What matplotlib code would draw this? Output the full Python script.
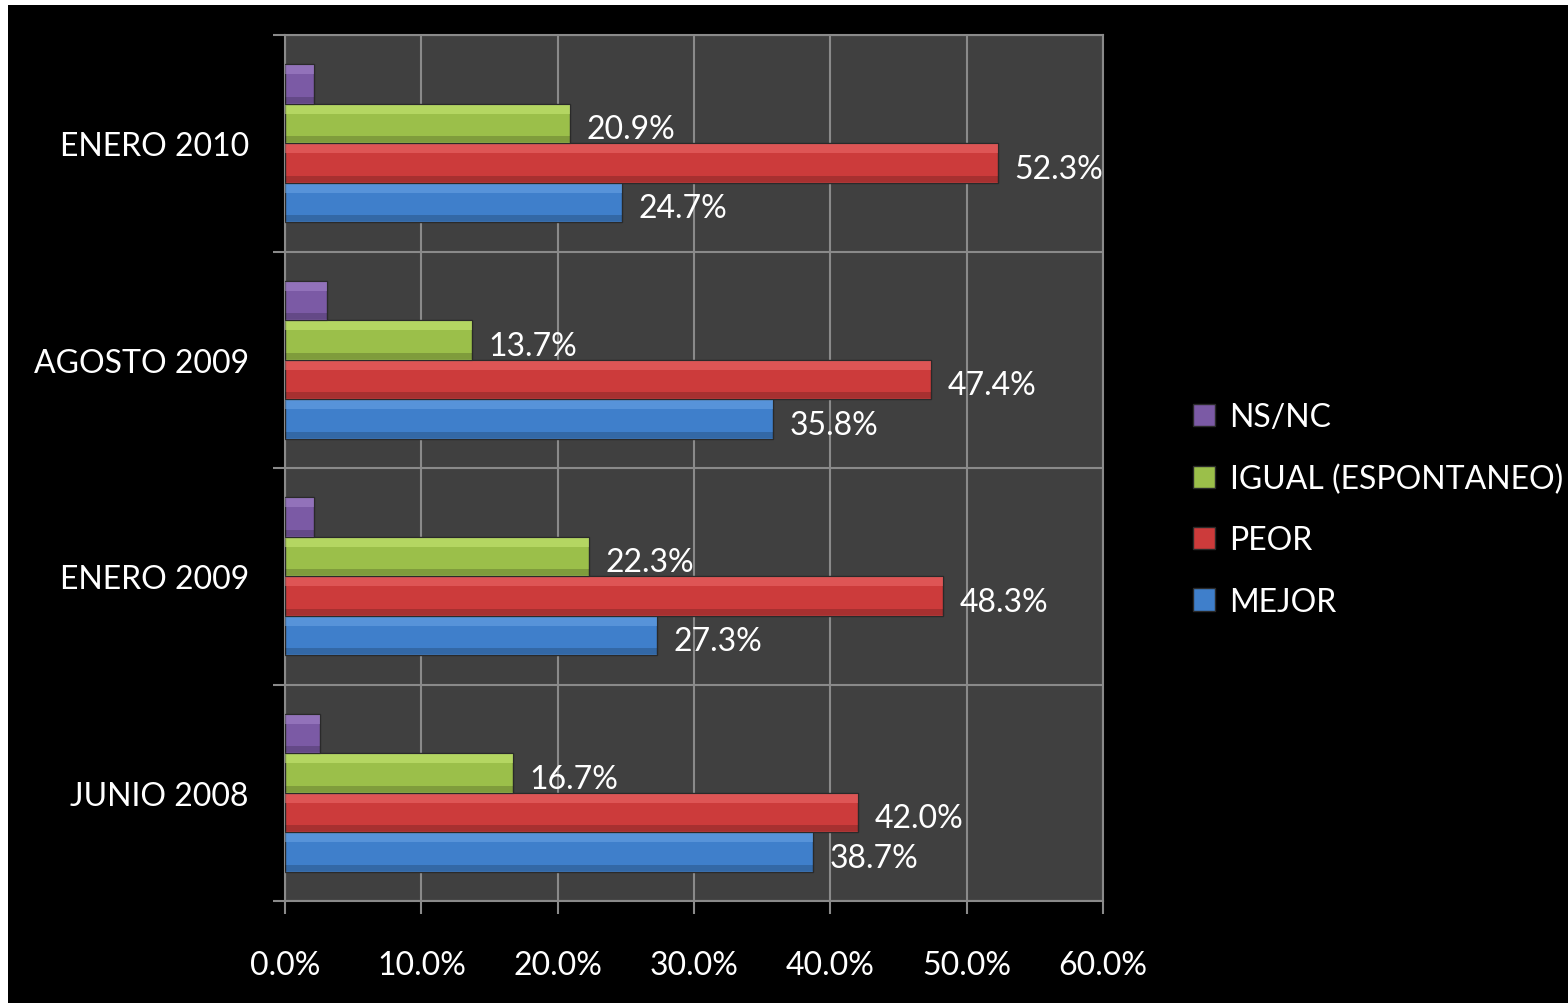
import matplotlib
matplotlib.use("Agg")
import matplotlib.pyplot as plt
from matplotlib.patches import Rectangle
import numpy as np

plt.rcParams['font.family'] = ['Lato', 'DejaVu Sans']

categories = ["JUNIO 2008", "ENERO 2009", "AGOSTO 2009", "ENERO 2010"]
mejor = [38.7, 27.3, 35.8, 24.7]
peor = [42.0, 48.3, 47.4, 52.3]
igual = [16.7, 22.3, 13.7, 20.9]
nsnc = [2.6, 2.1, 3.1, 2.1]
xticks = [0, 10, 20, 30, 40, 50, 60]

series = [
    ("MEJOR", mejor, "#3F7FCB", "#6FA8E8", True),
    ("PEOR", peor, "#CC3B3B", "#F07070", True),
    ("IGUAL (ESPONTANEO)", igual, "#9BBF4A", "#CDED7A", True),
    ("NS/NC", nsnc, "#7B5AA5", "#A98BD0", False),
]

FS = 23
W, H = 1568, 1004
fig = plt.figure(figsize=(W / 100, H / 100), dpi=100)
fig.patch.set_facecolor("white")
fig.add_artist(Rectangle((8 / W, 0), 1, (H - 6) / H, transform=fig.transFigure,
                         facecolor="black", edgecolor="none", zorder=0))

ax = fig.add_axes([285 / W, 1 - 902 / H, (1103 - 285) / W, (902 - 36) / H])
ax.set_facecolor("#404040")

y = np.arange(len(categories))
h = 0.1825
handles = []
for i, (name, vals, col, light, lab) in enumerate(series):
    off = (i - 1.5) * h
    bars = ax.barh(y + off, vals, height=h, color=col, edgecolor="#2a2a2a",
                   linewidth=1.0, zorder=3, label=name)
    # subtle bevel highlight / shadow
    ax.barh(y + off + h * 0.36, vals, height=h * 0.22, color=light, alpha=0.5,
            edgecolor="none", zorder=4)
    ax.barh(y + off - h * 0.40, vals, height=h * 0.16, color="black", alpha=0.18,
            edgecolor="none", zorder=4)
    handles.append(bars)
    if lab:
        txts = ax.bar_label(bars, labels=[f"{v:.1f}%" for v in vals], padding=12,
                            color="white", fontsize=FS)
        for t in txts:
            t.set_y(-4)

ax.set_xlim(0, 60)
ax.set_ylim(-0.5, 3.5)
ax.set_xticks(xticks)
ax.set_xticklabels([f"{t:.1f}%" for t in xticks], color="white", fontsize=FS)
ax.set_yticks(y)
ax.set_yticklabels(categories, color="white", fontsize=FS)
ax.set_yticks(np.arange(-0.5, 4.0, 1.0), minor=True)
ax.tick_params(axis="y", which="major", length=0, pad=26)
ax.tick_params(axis="y", which="minor", length=9, color="#8a8a8a", width=1.5)
ax.tick_params(axis="x", length=9, color="#8a8a8a", width=1.5, pad=26)
ax.grid(axis="x", color="#8a8a8a", linewidth=1.5, zorder=1)
ax.grid(axis="y", which="minor", color="#8a8a8a", linewidth=1.5, zorder=1)
ax.set_axisbelow(True)
for s in ax.spines.values():
    s.set_color("#8a8a8a")
    s.set_linewidth(1.5)

leg = ax.legend(handles=handles[::-1], labels=[s[0] for s in series][::-1],
                loc="center left", bbox_to_anchor=((1180 - 285) / 818, 0.452),
                frameon=False, fontsize=FS, labelcolor="white",
                handlelength=0.7, handleheight=0.7, handletextpad=0.45,
                labelspacing=0.98, borderaxespad=0)

fig.savefig("out.png", dpi=100, facecolor=fig.get_facecolor())
